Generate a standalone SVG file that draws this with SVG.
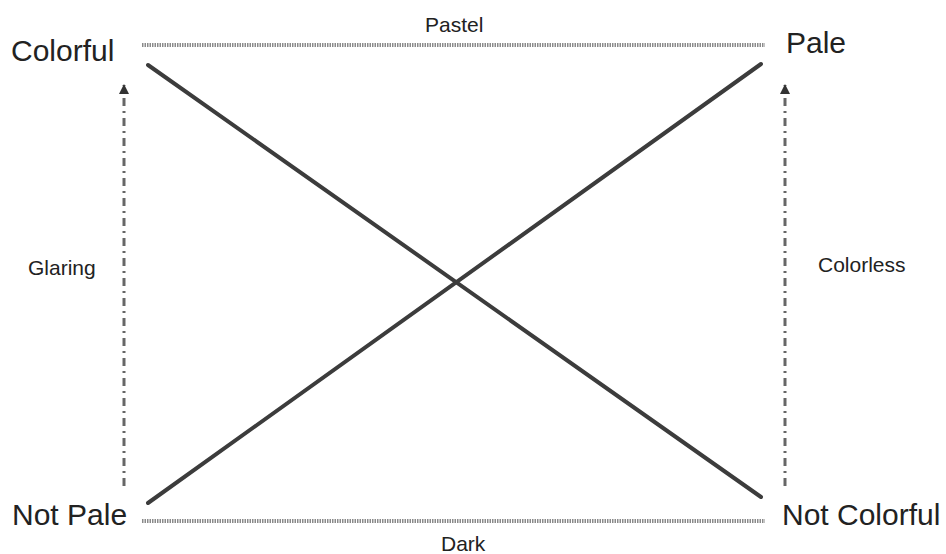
<svg xmlns="http://www.w3.org/2000/svg" width="946" height="554" viewBox="0 0 946 554">
<style>
.big{font-family:"Liberation Sans",Arial,sans-serif;font-size:30px;fill:#222}
.small{font-family:"Liberation Sans",Arial,sans-serif;font-size:21px;fill:#222}
.dot{stroke:#8a8a8a;stroke-width:4;stroke-dasharray:1.5 1;fill:none}
.diag{stroke:#3c3c3c;stroke-width:4;fill:none;stroke-linecap:round}
.dd{stroke:#666;stroke-width:3;stroke-dasharray:8 5 2 5;fill:none}
</style>
<defs>
<marker id="ah" markerWidth="10" markerHeight="10" refX="9" refY="5" orient="auto" markerUnits="userSpaceOnUse" viewBox="0 0 10 10">
<path d="M0 0 L10 5 L0 10 Z" fill="#333"/>
</marker>
</defs>
<rect width="946" height="554" fill="#fff"/>
<g id="connectors">
<line class="dot" x1="142" y1="45" x2="765" y2="45"/>
<line class="dot" x1="142" y1="521" x2="765" y2="521"/>
<line class="diag" x1="148" y1="65" x2="761" y2="497"/>
<line class="diag" x1="148" y1="503" x2="761" y2="64"/>
<line class="dd" x1="124" y1="486" x2="124" y2="85" marker-end="url(#ah)"/>
<line class="dd" x1="785" y1="486" x2="785" y2="85" marker-end="url(#ah)"/>
</g>
<g id="colorful"><text class="big" x="11" y="61">Colorful</text></g>
<g id="pale"><text class="big" x="786" y="53">Pale</text></g>
<g id="not-pale"><text class="big" x="12" y="525">Not Pale</text></g>
<g id="not-colorful"><text class="big" x="782" y="525">Not Colorful</text></g>
<g id="pastel"><text class="small" x="425" y="32">Pastel</text></g>
<g id="dark"><text class="small" x="441" y="551">Dark</text></g>
<g id="glaring"><text class="small" x="28" y="275">Glaring</text></g>
<g id="colorless"><text class="small" x="818" y="272">Colorless</text></g>
</svg>
